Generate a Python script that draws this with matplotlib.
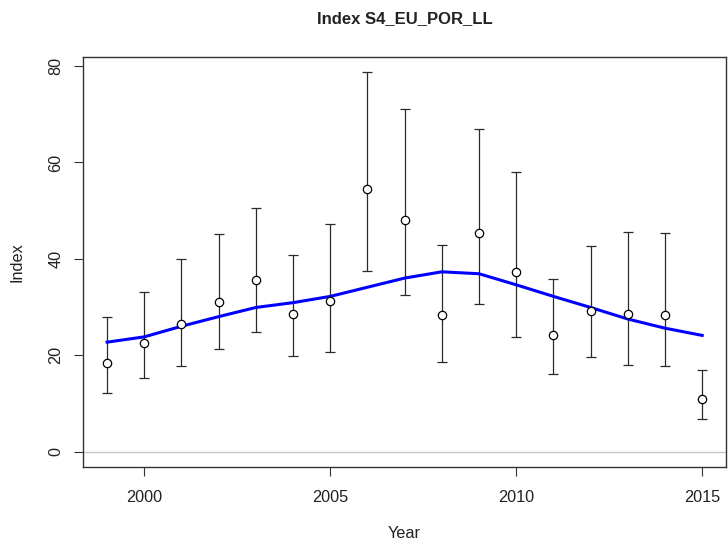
import matplotlib
matplotlib.use("Agg")
import matplotlib.pyplot as plt
import numpy as np

years = [1999, 2000, 2001, 2002, 2003, 2004, 2005, 2006, 2007, 2008,
         2009, 2010, 2011, 2012, 2013, 2014, 2015]
obs = [18.4, 22.6, 26.5, 31.0, 35.5, 28.5, 31.2, 54.4, 48.1, 28.3,
       45.4, 37.2, 24.1, 29.1, 28.6, 28.3, 10.8]
upper = [27.9, 33.2, 39.9, 45.2, 50.5, 40.7, 47.2, 78.8, 71.1, 42.9,
         67.0, 58.0, 35.9, 42.7, 45.6, 45.3, 17.0]
lower = [12.1, 15.3, 17.7, 21.2, 24.9, 19.9, 20.6, 37.5, 32.4, 18.6,
         30.7, 23.8, 16.1, 19.7, 17.9, 17.7, 6.8]
fit = [22.7, 23.8, 26.0, 28.0, 29.9, 30.9, 32.2, 34.1, 36.0, 37.3,
       36.9, 34.6, 32.2, 29.9, 27.5, 25.6, 24.1]
xticks = [2000, 2005, 2010, 2015]
yticks = [0, 20, 40, 60, 80]

plt.rcParams['font.family'] = ['Liberation Sans', 'DejaVu Sans']

W, H = 728, 550
fig = plt.figure(figsize=(W / 100, H / 100), dpi=100)
l, r, t, b = 83.3, 726, 56.7, 466.7
ax = fig.add_axes([l / W, 1 - b / H, (r - l) / W, (b - t) / H])

x = np.array(years, dtype=float)
o = np.array(obs)
up = np.array(upper)
lo = np.array(lower)

ax.axhline(0, color='#c8c8c8', lw=1.0, zorder=1)
ax.errorbar(x, o, yerr=[o - lo, up - o], fmt='none', ecolor='#2a2a2a',
            elinewidth=0.9, capsize=3.5, capthick=0.9, zorder=2)
ax.plot(x, fit, color='#0000ff', lw=2.2, zorder=3)
ax.plot(x, o, 'o', mfc='white', mec='black', ms=6, mew=0.9, zorder=4)

xr = x.max() - x.min()
ax.set_xlim(x.min() - 0.04 * xr, x.max() + 0.04 * xr)
ymax = max(upper)
ax.set_ylim(-0.04 * ymax, ymax * 1.04)

fs = 11.7
ax.set_xticks(xticks)
ax.set_yticks(yticks)
ax.set_xticklabels([str(v) for v in xticks], fontsize=fs, color='#222222')
ax.set_yticklabels([str(v) for v in yticks], fontsize=fs, rotation=90,
                   va='center', color='#222222')
ax.tick_params(axis='both', length=6.5, width=0.8, color='#333333', pad=8)
ax.tick_params(axis='x', pad=10)
for s in ax.spines.values():
    s.set_linewidth(1.0)
    s.set_color('#333333')

fig.text((l + r) / 2 / W, 1 - 18.5 / H, 'Index S4_EU_POR_LL', ha='center',
         va='center', fontsize=12, fontweight='bold', color='#222222')
fig.text((l + r) / 2 / W, 1 - 533 / H, 'Year', ha='center', va='center',
         fontsize=fs, color='#222222')
fig.text(17 / W, 1 - (t + b) / 2 / H, 'Index', ha='center', va='center',
         rotation=90, fontsize=fs, color='#222222')

fig.savefig('out.png', dpi=100)
